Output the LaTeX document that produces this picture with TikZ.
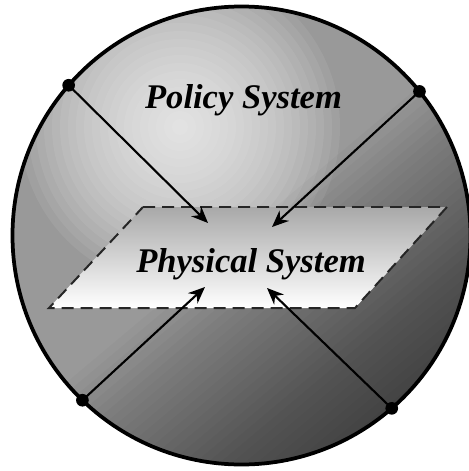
\documentclass[tikz,border=0pt]{standalone}
\usepackage{fontspec}
\setmainfont{Liberation Serif}
\usetikzlibrary{arrows.meta,positioning}

\begin{document}
\begin{tikzpicture}[x=0.03cm,y=-0.03cm,
    dot/.style={circle,fill=black,inner sep=0pt,minimum size=3.8mm},
    arr/.style={-{Stealth[length=5mm,width=4.2mm]},line width=1.8pt},
    lbl/.style={font=\fontsize{29.5}{34}\selectfont\bfseries\itshape,anchor=base}]
      \useasboundingbox (0,0) rectangle (468,471);
      \node[circle,outer sep=0pt,minimum size=13.74cm] (ball) at (241.5,235.5) {};
      \begin{scope}
        \clip (ball.center) circle [radius=6.87cm];
        \fill[gray!80] (ball.center) circle [radius=6.87cm];
        \foreach \r in {160,152,...,8}
          \fill[white,opacity=0.07] (180,127) circle [radius={0.03cm*\r}];
        \foreach \p in {0,8,...,232}
          \fill[black,opacity=0.024] ({241.5+0.643*\p-0.766*400},{235.5+0.766*\p+0.643*400})
            -- ({241.5+0.643*\p+0.766*400},{235.5+0.766*\p-0.643*400})
            -- ++({0.643*400},{0.766*400}) -- ++({-0.766*800},{0.643*800}) -- cycle;
      \end{scope}
      \draw[line width=3.2pt] (ball.center) circle [radius=6.87cm];
      \shade[top color=gray!68,bottom color=white,draw=gray!30!black,line width=1.7pt,dash pattern=on 3.6mm off 2.1mm]
        (143,207) -- (447,207) -- (355,308) -- (49,308) -- cycle;
      \node[lbl] (policy) at (243.5,108) {Policy System};
      \node[lbl] (phys) at (251,272) {Physical System};
      \node[dot] (nw) at (ball.139) {};
      \node[dot] (ne) at (ball.39) {};
      \node[dot] (sw) at (ball.226) {};
      \node[dot] (se) at (ball.311) {};
      \coordinate (tnw) at (208,223);
      \coordinate (tne) at (272,227);
      \coordinate (tsw) at (205,287);
      \coordinate (tse) at (267,288);
      \draw[arr] (nw.center)--(tnw);
      \draw[arr] (ne.center)--(tne);
      \draw[arr] (sw.center)--(tsw);
      \draw[arr] (se.center)--(tse);
    \end{tikzpicture}
\end{document}
